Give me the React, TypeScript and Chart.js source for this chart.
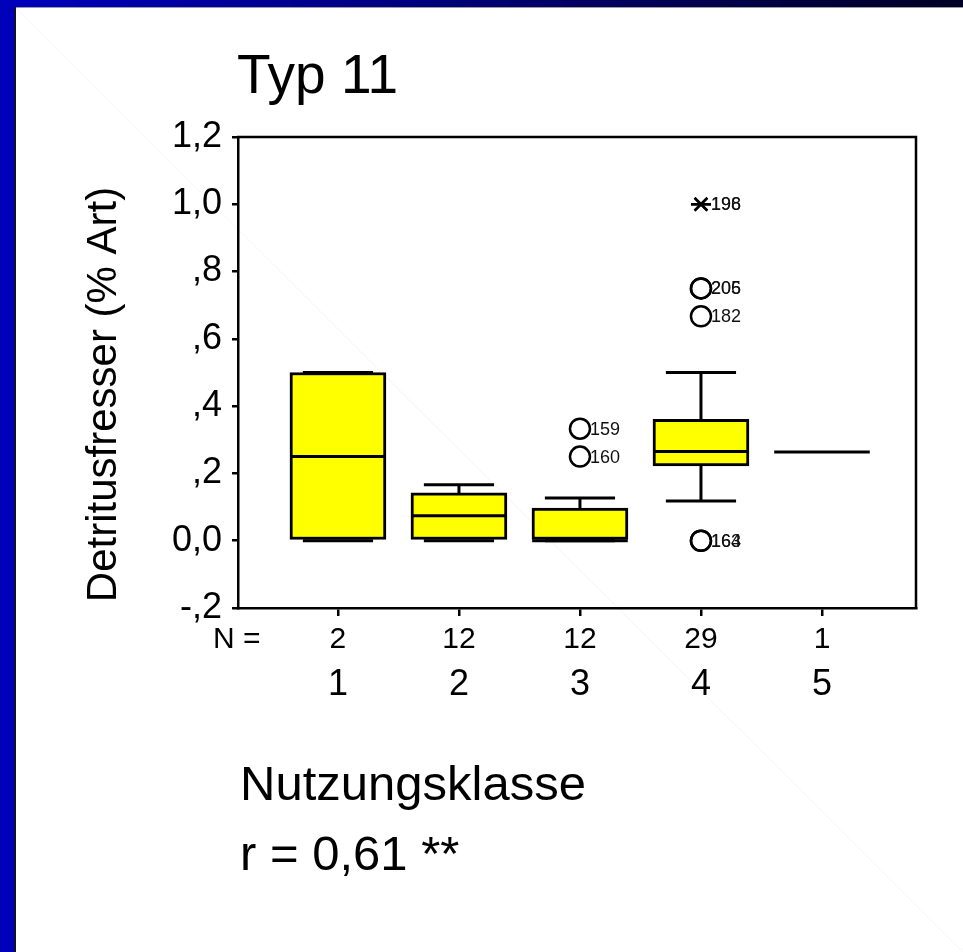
import React, { useEffect, useRef } from "react";
import { Chart, registerables } from "chart.js";

Chart.register(...registerables);

// ---- data ----
const categories = [1, 2, 3, 4, 5];
const nCounts = [2, 12, 12, 29, 1];
const boxLow = [0, 0, 0, 0.222, null];
const boxHigh = [0.5, 0.142, 0.097, 0.361, null];
const medians = [0.25, 0.074, 0, 0.265, 0.264];
const whiskerLow = [0, 0, 0, 0.118, null];
const whiskerHigh = [0.5, 0.166, 0.127, 0.5, null];
const outlierCategory = [3, 3, 4, 4, 4, 4, 4];
const outlierValues = [0.333, 0.25, 0.75, 0.75, 0.667, 0, 0];
const outlierIds = ["159", "160", "205", "206", "182", "163", "164"];
const extremeCategory = [4, 4];
const extremeValues = [1, 1];
const extremeIds = ["196", "198"];
const yTickValues = [-0.2, 0, 0.2, 0.4, 0.6, 0.8, 1.0, 1.2];
const titleText = "Typ 11";
const yAxisTitle = "Detritusfresser (% Art)";
const xAxisTitle = "Nutzungsklasse";
const corrText = "r = 0,61 **";
const nPrefix = "N =";

// ---- style constants ----
const FONT = "'Liberation Sans', Arial, Helvetica, sans-serif";
const MED_HALF = 0.395;
const CAP_HALF = 0.29;
const LW = 3;

function fmtY(v: number): string {
  const s = (Math.round(v * 10) / 10).toFixed(1).replace(".", ",");
  if (s === "0,0") return s;
  return s.replace(/^(-?)0,/, "$1,");
}

type Seg = [number, number, number, number];
function segPoints(segs: Seg[]) {
  const pts: any[] = [];
  segs.forEach((s) => {
    pts.push({ x: s[0], y: s[1] });
    pts.push({ x: s[2], y: s[3] });
    pts.push({ x: s[2], y: null });
  });
  return pts;
}

export default function App() {
  const ref = useRef<HTMLCanvasElement | null>(null);

  useEffect(() => {
    document.body.style.margin = "0";
    const canvas = ref.current;
    if (!canvas) return;

    const boxData = categories
      .map((c, i) => (boxLow[i] == null ? null : { x: c, y: [boxLow[i], boxHigh[i]] }))
      .filter(Boolean);

    const medianSegs: Seg[] = [];
    const stemSegs: Seg[] = [];
    const capSegs: Seg[] = [];
    categories.forEach((c, i) => {
      const m = medians[i];
      if (m != null) medianSegs.push([c - MED_HALF, m, c + MED_HALF, m]);
      const hi = whiskerHigh[i];
      const lo = whiskerLow[i];
      const q1 = boxLow[i];
      const q3 = boxHigh[i];
      if (hi != null && q3 != null) {
        if (hi > q3) stemSegs.push([c, q3, c, hi]);
        capSegs.push([c - CAP_HALF, hi, c + CAP_HALF, hi]);
      }
      if (lo != null && q1 != null) {
        if (lo < q1) stemSegs.push([c, q1, c, lo]);
        capSegs.push([c - CAP_HALF, lo, c + CAP_HALF, lo]);
      }
    });

    const outlierPts = outlierValues.map((v, i) => ({ x: outlierCategory[i], y: v }));
    const extremePts = extremeValues.map((v, i) => ({ x: extremeCategory[i], y: v }));

    const decor = {
      id: "decor",
      afterDraw(chart: any) {
        const { ctx, chartArea, scales } = chart;
        const xs = scales.x;
        const ys = scales.y;
        ctx.save();
        // frame top + right
        ctx.strokeStyle = "#000";
        ctx.lineWidth = 2.5;
        ctx.beginPath();
        ctx.moveTo(chartArea.left - 1, chartArea.top);
        ctx.lineTo(chartArea.right, chartArea.top);
        ctx.lineTo(chartArea.right, chartArea.bottom + 1);
        ctx.stroke();

        // outlier labels
        ctx.fillStyle = "#111";
        ctx.font = `18px ${FONT}`;
        ctx.textAlign = "left";
        ctx.textBaseline = "middle";
        outlierValues.forEach((v, i) => {
          const px = xs.getPixelForValue(outlierCategory[i]);
          const py = ys.getPixelForValue(v);
          ctx.fillText(outlierIds[i], px + 10, py + 1);
        });
        extremeValues.forEach((v, i) => {
          const px = xs.getPixelForValue(extremeCategory[i]);
          const py = ys.getPixelForValue(v);
          ctx.fillText(extremeIds[i], px + 10, py + 1);
        });

        // title
        ctx.fillStyle = "#000";
        ctx.font = `55px ${FONT}`;
        ctx.textBaseline = "alphabetic";
        ctx.fillText(titleText, 237, 93);

        // N row
        ctx.font = `30px ${FONT}`;
        ctx.textBaseline = "middle";
        ctx.textAlign = "left";
        ctx.fillText(nPrefix, 213, 640);
        ctx.textAlign = "center";
        categories.forEach((c, i) => {
          ctx.fillText(String(nCounts[i]), xs.getPixelForValue(c), 640);
        });

        // x title & correlation
        ctx.textAlign = "left";
        ctx.font = `49px ${FONT}`;
        ctx.fillText(xAxisTitle, 240, 786);
        ctx.fillText(corrText, 240, 856);

        // y title
        ctx.save();
        ctx.translate(104, (chartArea.top + chartArea.bottom) / 2 + 22);
        ctx.rotate(-Math.PI / 2);
        ctx.font = `42px ${FONT}`;
        ctx.textAlign = "center";
        ctx.textBaseline = "middle";
        ctx.fillText(yAxisTitle, 0, 0);
        ctx.restore();

        ctx.restore();
      },
    };

    const chart = new Chart(canvas, {
      type: "scatter",
      data: {
        datasets: [
          {
            type: "bar",
            data: boxData as any,
            backgroundColor: "#FFFF00",
            borderColor: "#000",
            borderWidth: LW,
            borderSkipped: false,
            barThickness: 96,
            order: 5,
          } as any,
          {
            type: "line",
            data: segPoints(stemSegs),
            borderColor: "#000",
            borderWidth: LW,
            pointRadius: 0,
            spanGaps: false,
            order: 6,
          },
          {
            type: "line",
            data: segPoints(capSegs),
            borderColor: "#000",
            borderWidth: LW,
            pointRadius: 0,
            spanGaps: false,
            order: 4,
          },
          {
            type: "line",
            data: segPoints(medianSegs),
            borderColor: "#000",
            borderWidth: LW,
            pointRadius: 0,
            spanGaps: false,
            order: 3,
          },
          {
            type: "scatter",
            data: outlierPts,
            pointStyle: "circle",
            pointRadius: 10,
            borderWidth: 2.5,
            borderColor: "#000",
            backgroundColor: "rgba(255,255,255,0)",
            order: 2,
          },
          {
            type: "scatter",
            data: extremePts,
            pointStyle: "crossRot",
            pointRadius: 9,
            borderWidth: 2.5,
            borderColor: "#000",
            order: 1,
          },
          {
            type: "scatter",
            data: extremePts,
            pointStyle: "line",
            pointRadius: 10,
            borderWidth: 2.5,
            borderColor: "#000",
            order: 1,
          },
        ],
      },
      options: {
        responsive: false,
        animation: false,
        devicePixelRatio: 1,
        layout: { padding: { top: 137, right: 47, left: 0, bottom: 0 } },
        plugins: {
          legend: { display: false },
          tooltip: { enabled: false },
          title: { display: false },
        },
        scales: {
          x: {
            type: "linear",
            min: 0.174,
            max: 5.777,
            offset: false,
            afterFit: (s: any) => {
              s.height = 344;
            },
            afterBuildTicks: (s: any) => {
              s.ticks = categories.map((v) => ({ value: v }));
            },
            ticks: {
              font: { family: FONT, size: 36 },
              color: "#000",
              padding: 47,
              autoSkip: false,
              maxRotation: 0,
              callback: (v: any) => String(v),
            },
            grid: {
              display: true,
              drawOnChartArea: false,
              drawTicks: true,
              tickLength: 8,
              color: "#000",
              lineWidth: 2.5,
              offset: false,
            },
            border: { display: true, color: "#000", width: 2.5 },
          },
          y: {
            type: "linear",
            min: -0.2,
            max: 1.2,
            afterFit: (s: any) => {
              s.width = 238;
            },
            afterBuildTicks: (s: any) => {
              s.ticks = yTickValues.map((v) => ({ value: v }));
            },
            ticks: {
              font: { family: FONT, size: 36 },
              color: "#000",
              padding: 10,
              callback: (v: any) => fmtY(Number(v)),
            },
            grid: {
              display: true,
              drawOnChartArea: false,
              drawTicks: true,
              tickLength: 6,
              color: "#000",
              lineWidth: 2.5,
            },
            border: { display: true, color: "#000", width: 2.5 },
          },
        },
      },
      plugins: [decor],
    } as any);

    return () => chart.destroy();
  }, []);

  return (
    <div style={{ position: "relative", width: 963, height: 952, background: "#fff", overflow: "hidden" }}>
      <div style={{ position: "absolute", left: 0, top: 0, width: 963, height: 7, background: "linear-gradient(to right, #0000C0, #000024)" }} />
      <div style={{ position: "absolute", left: 0, top: 7, width: 963, height: 1, background: "#9a9aa0" }} />
      <div style={{ position: "absolute", left: 0, top: 0, width: 14, height: 952, background: "#0000B8" }} />
      <div style={{ position: "absolute", left: 14, top: 7, width: 2, height: 945, background: "#101030" }} />
      <svg width={963} height={952} style={{ position: "absolute", left: 0, top: 0 }}>
        <line x1={16} y1={8} x2={963} y2={952} stroke="#f5f5f8" strokeWidth={1} />
      </svg>
      <canvas ref={ref} width={963} height={952} style={{ position: "absolute", left: 0, top: 0 }} />
    </div>
  );
}
